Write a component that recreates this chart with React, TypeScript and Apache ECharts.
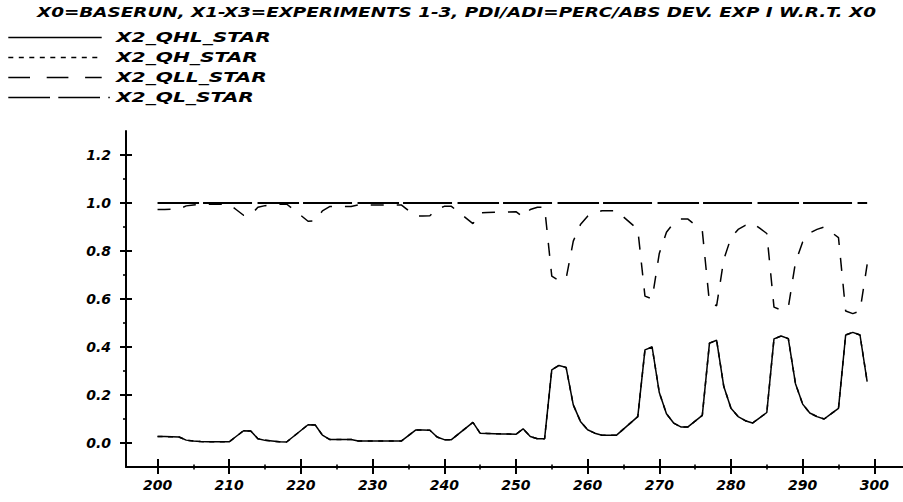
import React, { useEffect, useRef } from "react";
import * as echarts from "echarts";

const TITLE = "X0=BASERUN, X1-X3=EXPERIMENTS 1-3, PDI/ADI=PERC/ABS DEV. EXP I W.R.T. X0";
const LEGEND_NAMES = ["X2_QHL_STAR", "X2_QH_STAR", "X2_QLL_STAR", "X2_QL_STAR"];

const X_START = 200;
const X_TICKS = [200, 210, 220, 230, 240, 250, 260, 270, 280, 290, 300];
const X_MINOR = [205, 215, 225, 235, 245, 255, 265, 275, 285, 295];
const Y_TICKS = [0, 0.2, 0.4, 0.6, 0.8, 1.0, 1.2];
const Y_MINOR = [0.1, 0.3, 0.5, 0.7, 0.9, 1.1];

// X2_QHL_STAR (solid), periods 200..299
const qhlStar = [
  0.027, 0.027, 0.026, 0.025, 0.012, 0.008, 0.006, 0.005, 0.005, 0.005,
  0.005, 0.028, 0.051, 0.050, 0.018, 0.011, 0.008, 0.005, 0.004, 0.028,
  0.052, 0.076, 0.075, 0.033, 0.015, 0.015, 0.015, 0.015, 0.008, 0.008,
  0.008, 0.008, 0.008, 0.008, 0.008, 0.031, 0.054, 0.054, 0.053, 0.025,
  0.014, 0.014, 0.038, 0.062, 0.086, 0.041, 0.040, 0.039, 0.038, 0.037,
  0.036, 0.059, 0.027, 0.018, 0.018, 0.305, 0.323, 0.315, 0.159, 0.090,
  0.055, 0.041, 0.032, 0.032, 0.032, 0.058, 0.084, 0.110, 0.388, 0.400,
  0.210, 0.122, 0.083, 0.067, 0.067, 0.091, 0.115, 0.416, 0.428, 0.235,
  0.145, 0.110, 0.093, 0.083, 0.105, 0.127, 0.434, 0.446, 0.435, 0.247,
  0.162, 0.125, 0.110, 0.100, 0.122, 0.144, 0.450, 0.461, 0.450, 0.256,
];

// X2_QH_STAR coincides with the solid line in the picture (hidden beneath it)
const qhStar = qhlStar;

// X2_QLL_STAR (dashed dipping curve)
const qllStar = [
  0.973, 0.973, 0.974, 0.975, 0.988, 0.992, 0.994, 0.995, 0.995, 0.995,
  0.995, 0.972, 0.949, 0.950, 0.982, 0.989, 0.992, 0.995, 0.996, 0.972,
  0.948, 0.924, 0.925, 0.967, 0.985, 0.985, 0.985, 0.985, 0.992, 0.992,
  0.992, 0.992, 0.992, 0.992, 0.992, 0.969, 0.946, 0.946, 0.947, 0.975,
  0.986, 0.986, 0.962, 0.938, 0.914, 0.959, 0.960, 0.961, 0.962, 0.963,
  0.964, 0.941, 0.973, 0.982, 0.982, 0.695, 0.677, 0.685, 0.841, 0.910,
  0.945, 0.959, 0.968, 0.968, 0.968, 0.942, 0.916, 0.890, 0.612, 0.600,
  0.790, 0.878, 0.917, 0.933, 0.933, 0.909, 0.885, 0.584, 0.572, 0.765,
  0.855, 0.890, 0.907, 0.917, 0.895, 0.873, 0.566, 0.554, 0.565, 0.753,
  0.838, 0.875, 0.890, 0.900, 0.878, 0.856, 0.550, 0.539, 0.550, 0.744,
];

// X2_QL_STAR (long dash at 1.0)
const qlStar = [
  1, 1, 1, 1, 1, 1, 1, 1, 1, 1,
  1, 1, 1, 1, 1, 1, 1, 1, 1, 1,
  1, 1, 1, 1, 1, 1, 1, 1, 1, 1,
  1, 1, 1, 1, 1, 1, 1, 1, 1, 1,
  1, 1, 1, 1, 1, 1, 1, 1, 1, 1,
  1, 1, 1, 1, 1, 1, 1, 1, 1, 1,
  1, 1, 1, 1, 1, 1, 1, 1, 1, 1,
  1, 1, 1, 1, 1, 1, 1, 1, 1, 1,
  1, 1, 1, 1, 1, 1, 1, 1, 1, 1,
  1, 1, 1, 1, 1, 1, 1, 1, 1, 1,
];

const FONT_FAMILY = '"DejaVu Sans"';
const FONT = `italic bold 14px ${FONT_FAMILY}`;

function measure(text: string, font: string): number {
  const c = document.createElement("canvas");
  const ctx = c.getContext("2d");
  if (!ctx) return text.length * 9;
  ctx.font = font;
  return ctx.measureText(text).width;
}

const toPairs = (arr: number[]) => arr.map((v, i) => [X_START + i, v]);

export default function App() {
  const ref = useRef<HTMLDivElement>(null);

  useEffect(() => {
    if (!ref.current) return;
    const chart = echarts.init(ref.current, undefined, { renderer: "svg" });

    const titleScale = 839 / measure(TITLE, FONT);
    const legendScale = 155 / measure(LEGEND_NAMES[0], FONT);

    const legendRowsY = [37.5, 57.5, 77.5, 97.5];
    const legendDash: (number[] | null)[] = [null, [5, 5.5], [21.7, 16.7], [41.7, 8.3, 41.7, 8.3, 1.5, 10]];
    const legendEnd = [101.7, 101.7, 101.7, 110];

    const graphics: any[] = [
      {
        type: "text",
        x: 37,
        y: 12.5,
        scaleX: titleScale,
        silent: true,
        style: { text: TITLE, font: FONT, fill: "#000", align: "left", verticalAlign: "middle" },
      },
    ];
    LEGEND_NAMES.forEach((name, i) => {
      graphics.push({
        type: "line",
        silent: true,
        shape: { x1: 8.3, y1: legendRowsY[i], x2: legendEnd[i], y2: legendRowsY[i] },
        style: { stroke: "#000", lineWidth: 1.6, lineDash: legendDash[i] || undefined },
      });
      graphics.push({
        type: "text",
        x: 116,
        y: legendRowsY[i],
        scaleX: legendScale,
        silent: true,
        style: { text: name, font: FONT, fill: "#000", align: "left", verticalAlign: "middle" },
      });
    });

    const xMin = 195.6;
    const xMax = 304;
    const yMin = -0.1;
    const yMax = 1.3;
    const black = "#000";
    const labelStyle = {
      color: black,
      fontFamily: "DejaVu Sans",
      fontStyle: "italic",
      fontWeight: "bold",
      fontSize: 14,
    };
    const noLine = { show: false, onZero: false };
    const noSplit = { show: false };

    const xAxisBase = { type: "value", min: xMin, max: xMax, position: "bottom", offset: 0, splitLine: noSplit };
    const yAxisBase = { type: "value", min: yMin, max: yMax, position: "left", offset: 0, splitLine: noSplit };

    const option: any = {
      animation: false,
      backgroundColor: "#fff",
      graphic: graphics,
      grid: { left: 126, right: 0, top: 131, bottom: 35, containLabel: false },
      xAxis: [
        {
          ...xAxisBase,
          axisLine: { show: true, onZero: false, lineStyle: { color: black, width: 2 } },
          axisTick: { show: true, inside: false, length: 7, customValues: X_TICKS, lineStyle: { color: black, width: 2 } },
          axisLabel: { show: true, customValues: X_TICKS, margin: 11, ...labelStyle, formatter: (v: number) => String(Math.round(v)) },
        },
        {
          ...xAxisBase,
          axisLine: noLine,
          axisTick: { show: true, inside: true, length: 8, customValues: X_TICKS, lineStyle: { color: black, width: 2 } },
          axisLabel: { show: false },
        },
        {
          ...xAxisBase,
          axisLine: noLine,
          axisTick: { show: true, inside: false, length: 2.5, customValues: X_MINOR, lineStyle: { color: black, width: 1.6 } },
          axisLabel: { show: false },
        },
        {
          ...xAxisBase,
          axisLine: noLine,
          axisTick: { show: true, inside: true, length: 2.5, customValues: X_MINOR, lineStyle: { color: black, width: 1.6 } },
          axisLabel: { show: false },
        },
      ],
      yAxis: [
        {
          ...yAxisBase,
          axisLine: { show: true, onZero: false, lineStyle: { color: black, width: 2 } },
          axisTick: { show: true, inside: false, length: 6, customValues: Y_TICKS, lineStyle: { color: black, width: 2 } },
          axisLabel: { show: true, customValues: Y_TICKS, margin: 15, ...labelStyle, formatter: (v: number) => v.toFixed(1) },
        },
        {
          ...yAxisBase,
          axisLine: noLine,
          axisTick: { show: true, inside: true, length: 6, customValues: Y_TICKS, lineStyle: { color: black, width: 2 } },
          axisLabel: { show: false },
        },
        {
          ...yAxisBase,
          axisLine: noLine,
          axisTick: { show: true, inside: false, length: 3, customValues: Y_MINOR, lineStyle: { color: black, width: 1.6 } },
          axisLabel: { show: false },
        },
      ],
      series: [
        {
          name: LEGEND_NAMES[1],
          type: "line",
          data: toPairs(qhStar),
          symbol: "none",
          silent: true,
          lineStyle: { color: black, width: 1.5, type: [5, 5.5] },
        },
        {
          name: LEGEND_NAMES[0],
          type: "line",
          data: toPairs(qhlStar),
          symbol: "none",
          silent: true,
          lineStyle: { color: black, width: 1.5, type: "solid" },
        },
        {
          name: LEGEND_NAMES[2],
          type: "line",
          data: toPairs(qllStar),
          symbol: "none",
          silent: true,
          lineStyle: { color: black, width: 1.5, type: [13, 13] },
        },
        {
          name: LEGEND_NAMES[3],
          type: "line",
          data: toPairs(qlStar),
          symbol: "none",
          silent: true,
          lineStyle: { color: black, width: 2.2, type: [41.5, 4, 49, 5.5] },
        },
      ],
    };

    chart.setOption(option);
    return () => chart.dispose();
  }, []);

  return (
    <div
      ref={ref}
      style={{ position: "fixed", left: 0, top: 0, width: 903, height: 502, background: "#fff" }}
    />
  );
}
